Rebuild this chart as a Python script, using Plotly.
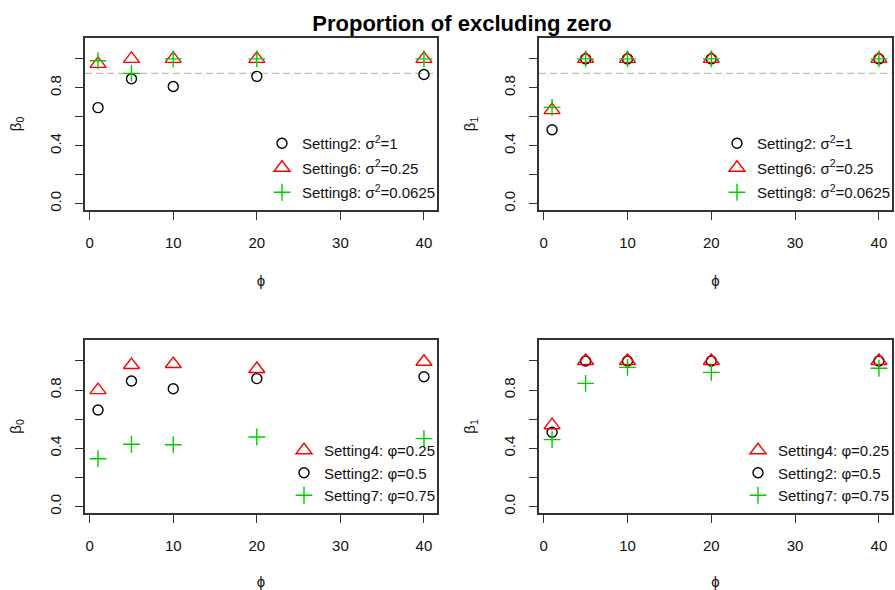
import plotly.graph_objects as go

# ---------------- data ----------------
phi = [1, 5, 10, 20, 40]

# top row (sigma^2 settings)
b0_set2 = [0.663, 0.862, 0.809, 0.879, 0.892]
b0_set6 = [0.965, 1.0, 1.0, 1.0, 1.0]
b0_set8 = [0.987, 0.90, 1.0, 1.0, 1.0]

b1_set2 = [0.51, 1.0, 1.0, 1.0, 1.0]
b1_set6 = [0.646, 1.0, 1.0, 1.0, 1.0]
b1_set8 = [0.665, 1.0, 1.0, 1.0, 1.0]

# bottom row (varphi settings)
b0_set4 = [0.80, 0.972, 0.979, 0.945, 0.995]
b0_set7 = [0.329, 0.428, 0.425, 0.478, 0.467]

b1_set4 = [0.559, 1.0, 1.0, 1.0, 1.0]
b1_set7 = [0.46, 0.846, 0.956, 0.922, 0.95]

ref_level = 0.9
yticks_major = [0.0, 0.4, 0.8]
ytick_text = ["0.0", "0.4", "0.8"]
yticks_minor = [0.2, 0.6, 1.0]
xticks = [0, 10, 20, 30, 40]

labels_top = ["Setting2: σ<sup>2</sup>=1", "Setting6: σ<sup>2</sup>=0.25", "Setting8: σ<sup>2</sup>=0.0625"]
labels_bot = ["Setting4: φ=0.25", "Setting2: φ=0.5", "Setting7: φ=0.75"]

# ---------------- styling ----------------
FONT = "Liberation Sans, Arial, sans-serif"
RED = "#FF0000"
GREEN = "#00CC00"
BLACK = "#000000"
W, H = 895, 590

circle = dict(symbol="circle-open", size=10, color=BLACK, line=dict(width=1.4, color=BLACK))
tri = dict(symbol="triangle-up-open", size=14, color=RED, line=dict(width=1.4, color=RED))
plus = dict(symbol="cross-thin-open", size=12, color=GREEN, line=dict(width=1.4, color=GREEN))

fig = go.Figure()

def add(xa, ya, y, name, marker, legend, rank):
    fig.add_trace(go.Scatter(
        x=phi, y=y, mode="markers", name=name, marker=marker,
        xaxis=xa, yaxis=ya, legend=legend, legendrank=rank,
        legendgroup=legend + name, cliponaxis=False,
    ))

# panel 1
add("x", "y", b0_set2, labels_top[0], circle, "legend", 1)
add("x", "y", b0_set6, labels_top[1], tri, "legend", 2)
add("x", "y", b0_set8, labels_top[2], plus, "legend", 3)
# panel 2
add("x2", "y2", b1_set2, labels_top[0], circle, "legend2", 1)
add("x2", "y2", b1_set6, labels_top[1], tri, "legend2", 2)
add("x2", "y2", b1_set8, labels_top[2], plus, "legend2", 3)
# panel 3
add("x3", "y3", b0_set2, labels_bot[1], circle, "legend3", 2)
add("x3", "y3", b0_set4, labels_bot[0], tri, "legend3", 1)
add("x3", "y3", b0_set7, labels_bot[2], plus, "legend3", 3)
# panel 4
add("x4", "y4", b1_set2, labels_bot[1], circle, "legend4", 2)
add("x4", "y4", b1_set4, labels_bot[0], tri, "legend4", 1)
add("x4", "y4", b1_set7, labels_bot[2], plus, "legend4", 3)

def px_x(p):
    return p / W

def px_y(p):
    return 1 - p / H

dom_x = [[px_x(85), px_x(437)], [px_x(539), px_x(892)]]
dom_y = [[px_y(210), px_y(38)], [px_y(513), px_y(340)]]

axis_font = dict(family=FONT, size=15, color="#111")

def xaxis(domain, anchor):
    return dict(domain=domain, anchor=anchor, range=[-0.56, 41.56], automargin=False,
                tickmode="array", tickvals=xticks, ticks="outside", ticklen=8,
                tickwidth=1.3, tickcolor="#333", showline=True, mirror=True,
                linecolor="#333", linewidth=1.5, showgrid=False, zeroline=False,
                tickfont=axis_font, ticklabelstandoff=10,
                title=dict(text="ϕ", font=dict(family=FONT, size=15, color="#111"), standoff=26))

def yaxis(domain, anchor, title):
    return dict(domain=domain, anchor=anchor, range=[-0.044, 1.144], automargin=False,
                tickmode="array", tickvals=yticks_major, ticktext=ytick_text,
                ticks="outside", ticklen=8, tickwidth=1.3, tickcolor="#333",
                minor=dict(tickmode="array", tickvals=yticks_minor, ticks="outside",
                           ticklen=8, tickwidth=1.3, tickcolor="#333", showgrid=False),
                showline=True, mirror=True, linecolor="#333", linewidth=1.5,
                showgrid=False, zeroline=False, tickangle=-90, tickfont=axis_font,
                ticklabelstandoff=8,
                title=dict(text=title, font=dict(family=FONT, size=15, color="#111"), standoff=22))

b0 = "β<sub>0</sub>"
b1 = "β<sub>1</sub>"

def legend(xpx, ypx, gap):
    return dict(x=px_x(xpx), y=px_y(ypx), xanchor="left", yanchor="top",
                bgcolor="rgba(0,0,0,0)", borderwidth=0, tracegroupgap=gap,
                font=dict(family=FONT, size=15, color="#111"), itemsizing="trace",
                traceorder="grouped")

fig.update_layout(
    width=W, height=H,
    margin=dict(l=0, r=0, t=0, b=0, autoexpand=False),
    paper_bgcolor="white", plot_bgcolor="white",
    title=dict(text="<b>Proportion of excluding zero</b>", x=462 / W, xanchor="center",
               y=px_y(23), yanchor="middle", automargin=False,
               font=dict(family=FONT, size=22, color="#000")),
    xaxis=xaxis(dom_x[0], "y"), yaxis=yaxis(dom_y[0], "x", b0),
    xaxis2=xaxis(dom_x[1], "y2"), yaxis2=yaxis(dom_y[0], "x2", b1),
    xaxis3=xaxis(dom_x[0], "y3"), yaxis3=yaxis(dom_y[1], "x3", b0),
    xaxis4=xaxis(dom_x[1], "y4"), yaxis4=yaxis(dom_y[1], "x4", b1),
    legend=legend(262, 127, 2),
    legend2=legend(717, 127, 2),
    legend3=legend(284, 434, 0),
    legend4=legend(738, 434, 0),
    showlegend=True,
)

for xr, yr in [("x", "y"), ("x2", "y2")]:
    fig.add_shape(type="line", xref=xr + " domain", x0=0, x1=1, yref=yr,
                  y0=ref_level, y1=ref_level,
                  line=dict(color="#BEBEBE", width=1.4, dash="7px,4px"), layer="below")

fig.write_html("out.html", config={"displayModeBar": False},
               post_script="document.body.style.margin='0';document.body.style.padding='0';")
